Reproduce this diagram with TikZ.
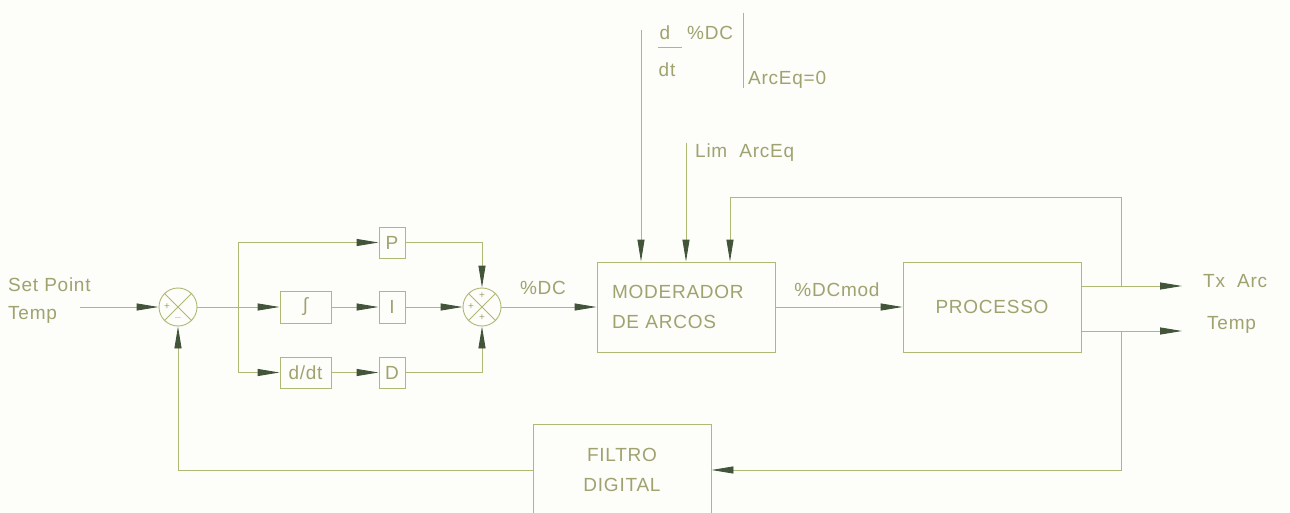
\documentclass[tikz,border=0pt]{standalone}
\usepackage{fontspec}
\setmainfont{Liberation Sans}[LetterSpace=4]
\usetikzlibrary{arrows.meta,calc}
\definecolor{linecol}{RGB}{176,184,118}
\definecolor{txtcol}{RGB}{160,162,112}
\definecolor{tipcol}{RGB}{66,84,58}
\definecolor{bgcol}{RGB}{253,253,249}
\tikzset{
  ln/.style={draw=linecol, line width=0.9pt},
  arr/.style={ln, -{Triangle[length=22pt,width=7pt,color=tipcol]}},
  blk/.style={rectangle, draw=linecol, line width=0.9pt, text=txtcol, inner sep=0pt, font=\fontsize{19}{30}\selectfont},
  sumnode/.style={circle, draw=linecol, line width=0.9pt, minimum size=38pt, inner sep=0pt},
  lbl/.style={text=txtcol, inner sep=0pt, font=\fontsize{19}{30}\selectfont},
  sgn/.style={text=txtcol, inner sep=0pt, font=\fontsize{10}{10}\selectfont},
}
\begin{document}
\begin{tikzpicture}[x=1pt,y=-1pt]
\fill[bgcol] (0,0) rectangle (1290,513);
\clip (0,0) rectangle (1290,513);

% summing junctions
\node[sumnode] (s1) at (178,307) {};
\draw[ln] (s1.north east) -- (s1.south west) (s1.north west) -- (s1.south east);
\node[sgn] at (167,307) {+};
\node[sgn] at (178,318) {$-$};
\node[sumnode] (s2) at (482,307) {};
\draw[ln] (s2.north east) -- (s2.south west) (s2.north west) -- (s2.south east);
\node[sgn] at (482,296) {+};
\node[sgn] at (471,307) {+};
\node[sgn] at (482,318) {+};

% PID blocks
\node[blk, minimum width=26pt, minimum height=31pt] (P) at (392,242.5) {P};
\node[blk, minimum width=26pt, minimum height=32pt] (I) at (392,307) {I};
\node[blk, minimum width=26pt, minimum height=31pt] (D) at (392,372.5) {D};
\node[blk, minimum width=51pt, minimum height=32pt] (int) at (305.5,307) {\char"222B};
\node[blk, minimum width=51pt, minimum height=31pt] (dd) at (305.5,372.5) {d/dt};

% main blocks
\node[blk, minimum width=178pt, minimum height=90pt, text width=148pt, align=left] (mod) at (686,307) {MODERADOR\\DE ARCOS};
\node[blk, minimum width=178pt, minimum height=90pt] (proc) at (992,307) {PROCESSO};
\node[blk, minimum width=178pt, minimum height=92pt, align=center] (fil) at (622,470) {FILTRO\\DIGITAL};

% coordinates
\coordinate (in) at (80,307);
\coordinate (j1) at (238,307);
\coordinate (t1) at (641,30);
\coordinate (t2) at (686,143);
\coordinate (c1) at (730,197);
\coordinate (fbT) at (1121,286);
\coordinate (fbB) at (1121,331);
\coordinate (txend) at (1182,286);
\coordinate (tpend) at (1182,331);

% connectors
\draw[arr] (in) -- (s1.west);
\draw[ln] (s1.east) -- (j1);
\draw[arr] (j1) -- (int.west);
\draw[arr] (j1) |- (P.west);
\draw[arr] (j1) |- (dd.west);
\draw[arr] (int.east) -- (I.west);
\draw[arr] (dd.east) -- (D.west);
\draw[arr] (I.east) -- (s2.west);
\draw[arr] (P.east) -| (s2.north);
\draw[arr] (D.east) -| (s2.south);
\draw[arr] (s2.east) -- (mod.west);
\draw[arr] (mod.east) -- (proc.west);
\draw[arr] (proc.east |- txend) -- (txend);
\draw[arr] (proc.east |- tpend) -- (tpend);
\draw[arr] (fbT) |- (c1) -- (c1 |- mod.north);
\draw[arr] (t1) -- (t1 |- mod.north);
\draw[arr] (t2) -- (t2 |- mod.north);
\draw[arr] (fbB) |- (fil.east);
\draw[arr] (fil.west) -| (s1.south);

% labels
\node[lbl, anchor=west] (sp) at (8,285) {Set Point};
\node[lbl, anchor=west] (spt) at (8,315) {Temp};
\node[lbl] (dc) at (543,288) {\%DC};
\node[lbl] (dcm) at (837,290) {\%DCmod};
\node[lbl, anchor=west] (tx) at (1203,281) {Tx\ \ Arc};
\node[lbl, anchor=west] (tp) at (1207,325) {Temp};
\node[lbl, anchor=west] (lim) at (695,153) {Lim\ \ ArcEq};
\node[lbl] (fd) at (665,33) {d};
\node[lbl] (fdt) at (667,70) {dt};
\draw[ln] (658,47) -- (682,47);
\node[lbl, anchor=west] (pdc) at (687,33) {\%DC};
\draw[ln] (743,13) -- (743,88);
\node[lbl, anchor=west] (aeq) at (748,80) {ArcEq=0};
\end{tikzpicture}
\end{document}
